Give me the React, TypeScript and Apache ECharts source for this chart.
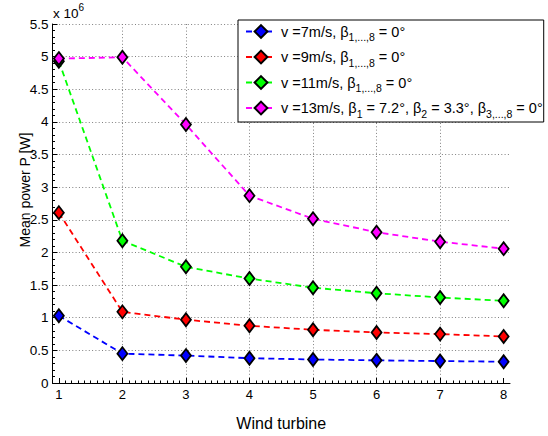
import React, { useEffect, useRef } from 'react';
import * as echarts from 'echarts';

const turbines = [1, 2, 3, 4, 5, 6, 7, 8];
const power7 = [1.03e6, 0.45e6, 0.42e6, 0.38e6, 0.36e6, 0.347e6, 0.336e6, 0.326e6];
const power9 = [2.61e6, 1.09e6, 0.97e6, 0.876e6, 0.815e6, 0.774e6, 0.749e6, 0.713e6];
const power11 = [4.93e6, 2.18e6, 1.78e6, 1.6e6, 1.46e6, 1.375e6, 1.31e6, 1.26e6];
const power13 = [4.97e6, 4.99e6, 3.96e6, 2.87e6, 2.516e6, 2.31e6, 2.165e6, 2.058e6];

const seriesNames = ['v7', 'v9', 'v11', 'v13'];
const seriesColors = ['#0000ff', '#ff0000', '#00ff00', '#ff00ff'];
const legendLabels: Record<string, string> = {
  v7: '{m|v =7m/s, β}{s|1,...,8}{m| = 0°}',
  v9: '{m|v =9m/s, β}{s|1,...,8}{m| = 0°}',
  v11: '{m|v =11m/s, β}{s|1,...,8}{m| = 0°}',
  v13: '{m|v =13m/s, β}{s|1}{m| = 7.2°, β}{s|2}{m| = 3.3°, β}{s|3,...,8}{m| = 0°}',
};
const xAxisTitle = 'Wind turbine';
const yAxisTitle = 'Mean power P [W]';
const yScaleLabel = '{a|x 10}{b|6}';

const FONT = '"Liberation Sans", Arial, Helvetica, sans-serif';

export default function App() {
  const ref = useRef<HTMLDivElement>(null);
  useEffect(() => {
    document.body.style.margin = '0';
    if (!ref.current) return;
    const chart = echarts.init(ref.current, undefined, { renderer: 'svg' });
    const allData = [power7, power9, power11, power13];
    const grid = { type: [1, 2.3], color: '#808080', width: 1 };
    chart.setOption({
      animation: false,
      backgroundColor: '#ffffff',
      textStyle: { fontFamily: FONT },
      grid: { left: 52.5, right: 38, top: 24, bottom: 52, containLabel: false },
      xAxis: {
        type: 'value',
        min: 0.9,
        max: 8.1,
        splitNumber: 7,
        name: xAxisTitle,
        nameLocation: 'middle',
        nameGap: 32,
        nameTextStyle: { color: '#000', fontSize: 16, fontFamily: FONT },
        axisLine: { show: true, onZero: false, lineStyle: { color: '#000', width: 1 } },
        axisTick: { show: true, inside: true, length: 5, customValues: turbines, lineStyle: { color: '#000' } },
        minorTick: { show: true, splitNumber: 10, length: 2.5, lineStyle: { color: '#000' } },
        axisLabel: {
          customValues: turbines,
          color: '#000',
          fontSize: 13,
          fontFamily: FONT,
          margin: 5,
          formatter: (v: number) => String(v),
        },
        splitLine: { show: true, showMinLine: false, showMaxLine: false, lineStyle: grid },
      },
      yAxis: {
        type: 'value',
        min: 0,
        max: 5.5e6,
        interval: 5e5,
        axisLine: { show: true, lineStyle: { color: '#000', width: 1 } },
        axisTick: { show: true, inside: true, length: 5, lineStyle: { color: '#000' } },
        minorTick: { show: true, splitNumber: 5, length: 2.5, lineStyle: { color: '#000' } },
        axisLabel: {
          color: '#000',
          fontSize: 13.5,
          fontFamily: FONT,
          margin: 4,
          formatter: (v: number) => String(Math.round(v / 1e5) / 10),
        },
        splitLine: { show: true, showMinLine: false, lineStyle: grid },
      },
      legend: {
        orient: 'vertical',
        left: 238,
        top: 20,
        padding: [4, 1, 3, 7],
        itemGap: 7,
        itemWidth: 30,
        itemHeight: 16,
        backgroundColor: '#fff',
        borderColor: '#000',
        borderWidth: 1,
        borderRadius: 0,
        data: seriesNames,
        formatter: (name: string) => legendLabels[name],
        textStyle: {
          color: '#000',
          fontSize: 14.5,
          fontFamily: FONT,
          rich: {
            m: { fontSize: 14.5, lineHeight: 22, fontFamily: FONT, color: '#000' },
            s: { fontSize: 10.5, lineHeight: 10, verticalAlign: 'bottom', fontFamily: FONT, color: '#000' },
          },
        },
      },
      graphic: [
        {
          type: 'text',
          left: 53,
          top: 2,
          style: {
            text: yScaleLabel,
            fill: '#000',
            fontFamily: FONT,
            fontSize: 13,
            rich: {
              a: { fontSize: 13.5, lineHeight: 22, fontFamily: FONT, fill: '#000' },
              b: { fontSize: 10, lineHeight: 10, verticalAlign: 'top', fontFamily: FONT, fill: '#000' },
            },
          },
        },
        {
          type: 'text',
          x: 25,
          y: 190,
          rotation: Math.PI / 2,
          style: {
            text: yAxisTitle,
            fill: '#000',
            fontFamily: FONT,
            fontSize: 14,
            align: 'center',
            verticalAlign: 'middle',
          },
        },
      ],
      series: seriesNames.map((name, i) => ({
        name,
        type: 'line',
        data: turbines.map((t, j) => [t, allData[i][j]]),
        symbol: 'diamond',
        symbolSize: [10, 13],
        lineStyle: { color: seriesColors[i], width: 1.8, type: [6, 4] },
        itemStyle: { color: seriesColors[i], borderColor: '#000', borderWidth: 1.8 },
        emphasis: { disabled: true },
        z: 2 + i,
      })),
    });
    return () => chart.dispose();
  }, []);
  return <div ref={ref} style={{ width: 548, height: 436 }} />;
}
